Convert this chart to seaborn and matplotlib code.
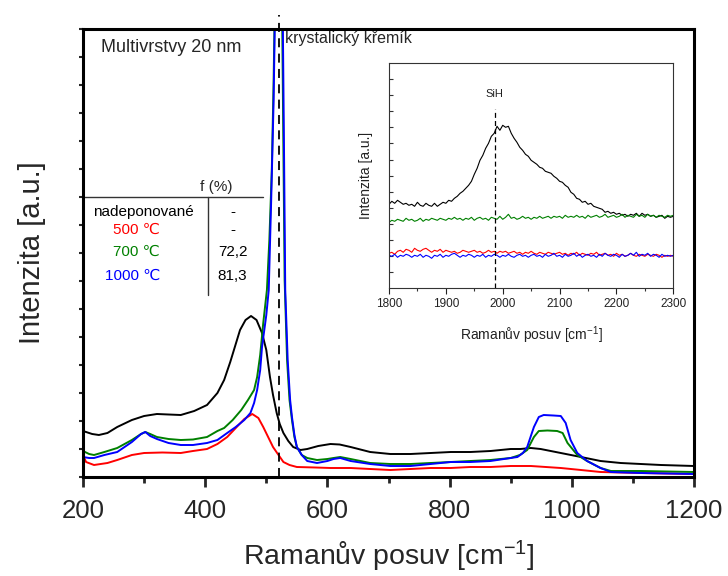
import numpy as np
import pandas as pd
import matplotlib
matplotlib.use("Agg")
import matplotlib.pyplot as plt
import seaborn as sns
from matplotlib.ticker import MultipleLocator, FixedLocator, NullFormatter

sns.set_style("ticks")
plt.rcParams['font.family'] = ['Liberation Sans', 'DejaVu Sans']
plt.rcParams['mathtext.default'] = 'regular'

# ---------------- main spectra (Raman shift, intensity a.u.) ----------------
black_x = [200, 215, 226, 240, 256, 280, 300, 321, 340, 360, 382, 403, 420, 431, 441, 457, 466, 475,
           484, 493, 500, 506, 511, 517, 522, 528, 536, 544, 556, 567, 585, 605, 620, 638, 670, 703,
           736, 769, 802, 834, 867, 900, 916, 933, 949, 982, 1015, 1047, 1080, 1113, 1146, 1200]
black_y = [46, 43, 42, 44, 50, 57, 61, 63, 62.5, 62, 66, 72, 84, 97, 115, 147, 157, 161,
           157, 144, 127, 100, 82, 64, 53, 44, 36, 30, 27, 28, 31, 33, 32.5, 30, 25, 23,
           23, 24, 25, 25, 26, 28, 28, 29, 28, 24, 20, 16, 14, 13, 12, 11]

green_x = [200, 210, 218, 235, 256, 280, 295, 302, 310, 321, 340, 360, 380, 403, 420, 431, 445, 459,
           470, 480, 485, 490, 495, 501, 505, 509, 512, 514, 517, 520, 523, 526, 528, 530, 534, 538,
           542, 546, 550, 558, 567, 583, 600, 610, 621, 638, 670, 703, 736, 769, 802, 834, 867, 900,
           915, 927, 938, 946, 960, 976, 985, 993, 1009, 1025, 1047, 1064, 1113, 1200]
green_y = [26, 23, 22, 25, 29, 37, 43, 45, 43, 40, 38, 37, 37.5, 40, 46, 49, 57, 67,
           77, 87, 100, 122, 154, 187, 237, 307, 397, 477, 577, 657, 577, 457, 327, 197, 117, 77,
           57, 40, 30, 22, 19, 17, 18, 19, 20, 18, 14, 13, 13, 14, 15, 16, 17, 19,
           22, 27, 40, 46, 46.5, 46, 44, 34, 22, 16, 9, 6, 6, 5]

blue_x = [200, 210, 218, 235, 256, 280, 295, 302, 310, 321, 340, 360, 380, 403, 420, 436, 450, 464,
          474, 480, 485, 490, 493, 500, 504, 508, 512, 514, 517, 520, 523, 527, 529, 531, 535, 539,
          542, 546, 550, 558, 567, 583, 600, 610, 621, 638, 670, 703, 736, 769, 802, 834, 867, 900,
          911, 920, 927, 933, 938, 946, 954, 970, 982, 990, 998, 1009, 1025, 1047, 1064, 1113, 1200]
blue_y = [20, 19, 19, 22, 25, 35, 43, 45, 41, 38, 34, 32, 32, 34, 37, 44, 50, 57,
          64, 74, 87, 107, 130, 162, 187, 277, 377, 457, 627, 777, 627, 457, 327, 187, 117, 77,
          60, 42, 30, 22, 16, 14, 16, 18, 19, 16, 13, 11, 11, 13, 15, 15, 16, 19,
          20, 24, 30, 41, 50, 60, 62, 61.5, 61, 54, 37, 24, 16, 9, 5, 4, 3]

red_x = [200, 205, 218, 240, 256, 280, 300, 330, 360, 380, 403, 420, 436, 450, 464, 477, 487, 495,
         503, 511, 520, 528, 538, 550, 580, 605, 638, 670, 703, 736, 769, 802, 834, 867, 900, 933,
         982, 1015, 1047, 1113, 1200]
red_y = [22, 15, 12, 14, 17, 22, 24, 24.5, 24, 26, 28, 33, 40, 49, 58, 63, 59, 50,
         40, 30, 22, 15, 12, 10, 9.5, 9, 9, 8, 7, 8, 9, 9, 10, 10, 11, 11,
         9, 7, 5, 4, 3]

# ---------------- inset spectra (1800-2300 cm-1, step 5) ----------------
inset_x = list(range(1800, 2301, 5))
inset_black = [84, 87, 85, 88, 86, 84, 85, 83, 84, 82,
               86, 83, 82, 85, 83, 82, 85, 82, 84, 86,
               85, 88, 87, 90, 92, 95, 97, 100, 103, 107,
               114, 120, 128, 133, 140, 145, 152, 155, 162, 158,
               163, 161, 162, 155, 150, 146, 141, 138, 134, 132,
               128, 126, 124, 121, 120, 117, 116, 115, 112, 110,
               107, 106, 103, 101, 96, 94, 90, 89, 86, 87,
               84, 85, 82, 81, 80, 79, 76, 77, 75, 76,
               74, 75, 73, 74, 72, 74, 73, 75, 72, 75,
               73, 74, 72, 73, 71, 72, 73, 70, 72, 71,
               72]
inset_green = [66, 68, 67, 69, 68, 67, 70, 68, 69, 67,
               68, 70, 67, 69, 68, 70, 69, 68, 70, 69,
               68, 70, 69, 71, 69, 70, 68, 70, 69, 71,
               68, 70, 71, 69, 70, 68, 71, 70, 69, 72,
               69, 71, 74, 70, 71, 69, 70, 72, 70, 71,
               69, 71, 70, 72, 70, 71, 72, 70, 72, 71,
               72, 70, 73, 71, 72, 71, 73, 71, 72, 70,
               73, 71, 72, 73, 71, 72, 74, 71, 72, 73,
               71, 72, 74, 71, 73, 72, 71, 74, 72, 73,
               71, 74, 72, 73, 71, 73, 72, 71, 73, 72,
               73]
inset_red = [35, 36, 34, 37, 38, 36, 39, 38, 36, 40,
             38, 37, 39, 40, 38, 36, 38, 37, 39, 36,
             38, 37, 36, 37, 35, 36, 38, 37, 36, 37,
             38, 36, 37, 35, 36, 38, 36, 37, 35, 37,
             36, 37, 35, 36, 37, 35, 36, 34, 36, 35,
             37, 35, 34, 36, 35, 34, 36, 35, 34, 35,
             36, 34, 35, 33, 35, 34, 36, 33, 35, 34,
             33, 35, 34, 36, 33, 34, 35, 33, 34, 32,
             35, 33, 34, 32, 33, 35, 33, 32, 34, 33,
             32, 34, 33, 32, 34, 33, 31, 33, 32, 33,
             32]
inset_blue = [33, 32, 34, 31, 33, 32, 34, 33, 31, 33,
              32, 34, 31, 33, 32, 30, 33, 32, 34, 31,
              33, 32, 34, 35, 33, 31, 33, 32, 34, 33,
              31, 33, 32, 34, 31, 33, 32, 34, 33, 31,
              33, 32, 34, 32, 31, 33, 34, 32, 33, 31,
              33, 34, 32, 33, 31, 34, 32, 33, 35, 32,
              33, 31, 34, 32, 33, 35, 32, 34, 31, 33,
              34, 32, 33, 31, 34, 32, 35, 33, 32, 34,
              33, 31, 34, 32, 33, 35, 33, 36, 32, 34,
              33, 35, 32, 34, 33, 31, 34, 32, 33, 32,
              33]

# table
table_labels = ["nadeponované", "500 \u2103", "700 \u2103", "1000 \u2103"]
table_f = ["-", "-", "72,2", "81,3"]
colors = ["black", "#ff0000", "#008000", "#0000ff"]

si_peak = 521
sih_peak = 1986

fig = plt.figure(figsize=(7.28, 5.76), dpi=100)
ax = fig.add_axes([83 / 728, 99 / 576, 611 / 728, 448 / 576])

series = [(black_x, black_y), (red_x, red_y), (green_x, green_y), (blue_x, blue_y)]
for (xs, ys), c in zip(series, colors):
    sns.lineplot(x=xs, y=ys, ax=ax, color=c, lw=1.4, sort=False, estimator=None)

ax.plot([si_peak, si_peak], [0, 462], color="black", lw=1.3, ls=(0, (5, 3.5)), clip_on=False)
ax.set_xlim(200, 1200)
ax.set_ylim(0, 448)
ax.xaxis.set_major_locator(MultipleLocator(200))
ax.xaxis.set_minor_locator(MultipleLocator(100))
ax.yaxis.set_major_locator(FixedLocator(np.arange(0, 449, 28)))
ax.yaxis.set_major_formatter(NullFormatter())
for s in ax.spines.values():
    s.set_linewidth(2.2)
    s.set_color("black")
ax.tick_params(axis="x", which="major", direction="out", length=7, width=2, labelsize=18.5, pad=9)
ax.tick_params(axis="x", which="minor", direction="out", length=4, width=2)
ax.tick_params(axis="y", which="major", direction="out", length=3, width=1.5)
ax.set_xlabel("Ramanův posuv [cm$^{-1}$]", fontsize=20.5, labelpad=11)
ax.set_ylabel("Intenzita [a.u.]", fontsize=21, labelpad=20)

ax.text(531, 439, "krystalický křemík", fontsize=11.5, va="center", ha="left")
ax.text(229.5, 429, "Multivrstvy 20 nm", fontsize=13, va="center", ha="left")

# table lines
ax.plot([200, 494.6], [280.3, 280.3], color="#333333", lw=1.0)
ax.plot([405.3, 405.3], [280.3, 182], color="#333333", lw=1.0)
ax.text(417.5, 290.3, "f (%)", fontsize=11, ha="center", va="center")
row_y = [265.3, 247, 225.3, 201.5]
for lab, fv, c, yy in zip(table_labels, table_f, colors, row_y):
    if c == "black":
        ax.text(216.4, yy, lab, fontsize=11, ha="left", va="center", color=c)
    else:
        ax.text(326, yy, lab, fontsize=11, ha="right", va="center", color=c)
    ax.text(444.8, yy, fv, fontsize=11, ha="center", va="center", color="black")

# ---------------- inset ----------------
axin = fig.add_axes([389 / 728, (576 - 288.3) / 576, 284.3 / 728, 225.6 / 576])
ins = [inset_black, inset_green, inset_red, inset_blue]
ins_cols = ["black", "#008000", "#ff0000", "#0000ff"]
for ys, c in zip(ins, ins_cols):
    sns.lineplot(x=inset_x, y=ys, ax=axin, color=c, lw=0.8, sort=False, estimator=None)
axin.plot([sih_peak, sih_peak], [0, 179], color="black", lw=0.9, ls=(0, (4, 2.5)))
axin.text(sih_peak, 194, "SiH", fontsize=8, ha="center", va="center", color="#222222")
axin.set_xlim(1800, 2300)
axin.set_ylim(0, 225.6)
axin.xaxis.set_major_locator(MultipleLocator(100))
axin.xaxis.set_minor_locator(MultipleLocator(50))
axin.yaxis.set_major_locator(FixedLocator(np.arange(16.1, 225, 16.1)))
axin.yaxis.set_major_formatter(NullFormatter())
for s in axin.spines.values():
    s.set_linewidth(0.8)
    s.set_color("#333333")
axin.tick_params(axis="x", which="major", direction="out", length=4, width=0.8, labelsize=8.5,
                 colors="#222222", pad=3)
axin.tick_params(axis="x", which="minor", direction="out", length=2, width=0.8, colors="#333333")
axin.tick_params(axis="y", which="major", direction="in", length=3, width=0.8, colors="#333333")
axin.set_xlabel("Ramanův posuv [cm$^{-1}$]", fontsize=10, color="#222222", labelpad=10)
axin.set_ylabel("Intenzita [a.u.]", fontsize=10, color="#222222", labelpad=8)

fig.savefig("out.png", dpi=100)
